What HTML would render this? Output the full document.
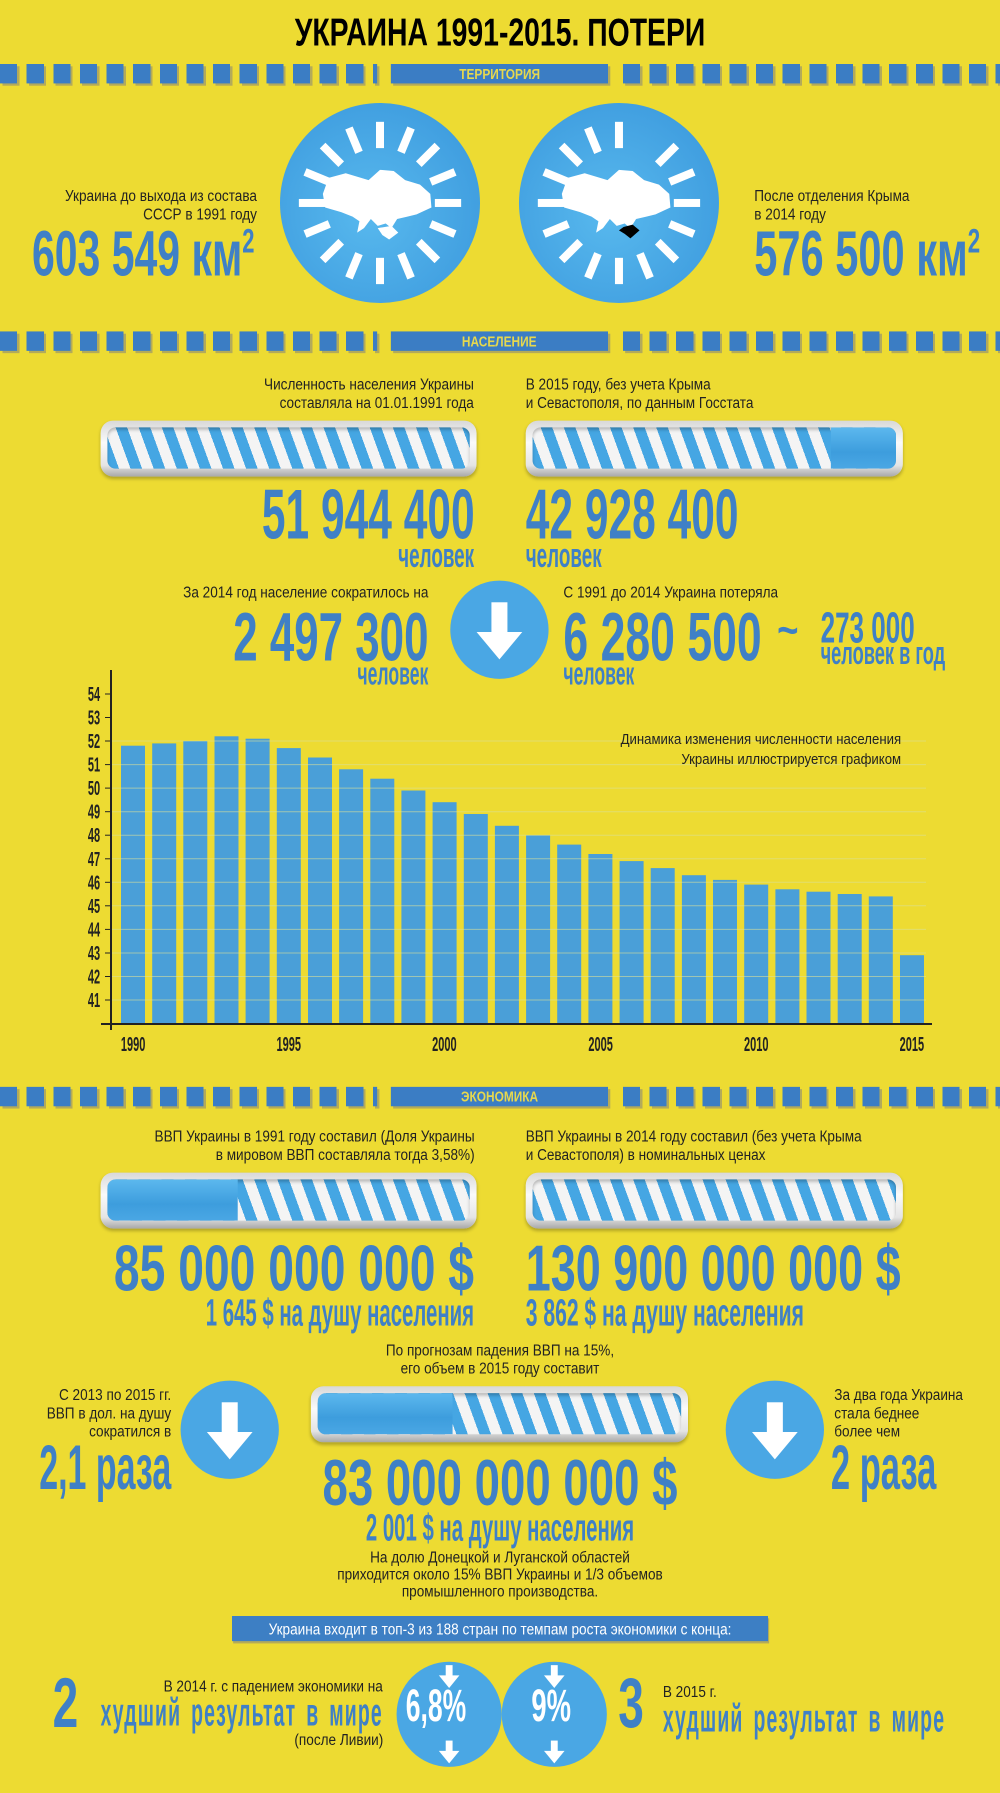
<!DOCTYPE html>
<html><head><meta charset="utf-8">
<style>
html,body{margin:0;padding:0;}
body{width:1000px;height:1793px;background:#eddb32;overflow:hidden;position:relative;font-family:"Liberation Sans","DejaVu Sans",sans-serif;}
#w{position:absolute;left:0;top:0;width:875px;height:1569px;transform:scale(1.142857);transform-origin:0 0;}
.t{position:absolute;white-space:nowrap;line-height:1;transform-origin:0 0;}
.r{text-align:right;transform-origin:100% 0;}
.c{left:0;width:875px;text-align:center;transform-origin:50% 0;}
.b{font-weight:bold;color:#3f80c6;}
.s{font-size:13.5px;color:#222;line-height:16px;transform:scaleX(.88);}
.dash{position:absolute;height:17px;background:repeating-linear-gradient(90deg,#3b7dc4 0 15px,transparent 15px 23.3px);}
.dsh{position:absolute;height:17px;background:repeating-linear-gradient(90deg,#b3aa5a 0 15px,transparent 15px 23.3px);}
.lab{position:absolute;left:342px;width:190px;height:17px;background:#3b7dc4;box-shadow:2px 2px 0 #b3aa5a;color:#e6d84e;font-weight:bold;font-size:13px;text-align:center;line-height:17px;}
.bar{position:absolute;height:49px;border-radius:11px;background:linear-gradient(#d8d8d8,#fafafa 40%,#e4e4e4 80%,#a8a8a8);box-shadow:0 2px 3px rgba(0,0,0,.25);}
.in{position:absolute;left:6px;right:6px;top:6px;bottom:7px;border-radius:7px;overflow:hidden;background:repeating-linear-gradient(70deg,#45a6e3 0 9.5px,#f4f4f4 9.5px 19px);box-shadow:inset 0 2px 3px rgba(0,0,0,.25);}
.fill{position:absolute;left:0;top:0;bottom:0;background:linear-gradient(#5cb8ee,#3d9ddd 60%,#4aa7e4);}
</style></head><body>
<div id="w">
<div class="t c" style="top:12px;font-size:34px;font-weight:bold;color:#000;transform:scaleX(.73)">УКРАИНА 1991-2015. ПОТЕРИ</div>

<div class="dsh" style="left:2px;top:58px;width:330px"></div><div class="dash" style="left:0;top:56px;width:330px"></div>
<div class="dsh" style="left:547px;top:58px;width:330px"></div><div class="dash" style="left:545px;top:56px;width:330px"></div>
<div class="lab" style="top:56px"><span style="display:inline-block;transform:scaleX(.8)">ТЕРРИТОРИЯ</span></div>

<svg style="position:absolute;left:0;top:0" width="875" height="300">
<defs><radialGradient id="cg" cx="45%" cy="55%" r="60%"><stop offset="0" stop-color="#58b9ee"/><stop offset="1" stop-color="#3f9ddf"/></radialGradient></defs>
<g transform="translate(332.5,177.6)">
<circle r="87.5" fill="url(#cg)"/>
<g fill="#fff">
<rect x="-3.5" y="-71" width="7" height="23" transform="rotate(0)"/><rect x="-3.5" y="-71" width="7" height="23" transform="rotate(22.5)"/><rect x="-3.5" y="-71" width="7" height="23" transform="rotate(45)"/><rect x="-3.5" y="-71" width="7" height="23" transform="rotate(67.5)"/><rect x="-3.5" y="-71" width="7" height="23" transform="rotate(90)"/><rect x="-3.5" y="-71" width="7" height="23" transform="rotate(112.5)"/><rect x="-3.5" y="-71" width="7" height="23" transform="rotate(135)"/><rect x="-3.5" y="-71" width="7" height="23" transform="rotate(157.5)"/><rect x="-3.5" y="-71" width="7" height="23" transform="rotate(180)"/><rect x="-3.5" y="-71" width="7" height="23" transform="rotate(202.5)"/><rect x="-3.5" y="-71" width="7" height="23" transform="rotate(225)"/><rect x="-3.5" y="-71" width="7" height="23" transform="rotate(247.5)"/><rect x="-3.5" y="-71" width="7" height="23" transform="rotate(270)"/><rect x="-3.5" y="-71" width="7" height="23" transform="rotate(292.5)"/><rect x="-3.5" y="-71" width="7" height="23" transform="rotate(315)"/><rect x="-3.5" y="-71" width="7" height="23" transform="rotate(337.5)"/>
<path d="M-45,-22 L-30,-26 L-10,-20 L0,-29 L12,-28 L22,-20 L35,-16 L44,-8 L45,4 L32,10 L24,12 L15,14 L10,22 L5,18 L-2,20 L-8,14 L-14,22 L-20,26 L-18,16 L-24,12 L-34,8 L-48,4 L-50,-8 Z"/>
<path d="M-2,22 L10,20 L16,26 L8,32 L2,28 Z"/>
</g></g>
<g transform="translate(541.6,177.6)">
<circle r="87.5" fill="url(#cg)"/>
<g fill="#fff">
<rect x="-3.5" y="-71" width="7" height="23" transform="rotate(0)"/><rect x="-3.5" y="-71" width="7" height="23" transform="rotate(-22.5)"/><rect x="-3.5" y="-71" width="7" height="23" transform="rotate(45)"/><rect x="-3.5" y="-71" width="7" height="23" transform="rotate(67.5)"/><rect x="-3.5" y="-71" width="7" height="23" transform="rotate(90)"/><rect x="-3.5" y="-71" width="7" height="23" transform="rotate(112.5)"/><rect x="-3.5" y="-71" width="7" height="23" transform="rotate(135)"/><rect x="-3.5" y="-71" width="7" height="23" transform="rotate(157.5)"/><rect x="-3.5" y="-71" width="7" height="23" transform="rotate(180)"/><rect x="-3.5" y="-71" width="7" height="23" transform="rotate(202.5)"/><rect x="-3.5" y="-71" width="7" height="23" transform="rotate(225)"/><rect x="-3.5" y="-71" width="7" height="23" transform="rotate(247.5)"/><rect x="-3.5" y="-71" width="7" height="23" transform="rotate(270)"/><rect x="-3.5" y="-71" width="7" height="23" transform="rotate(292.5)"/><rect x="-3.5" y="-71" width="7" height="23" transform="rotate(315)"/><rect x="-3.5" y="-71" width="7" height="23" transform="rotate(337.5)"/>
<path d="M-45,-22 L-30,-26 L-10,-20 L0,-29 L12,-28 L22,-20 L35,-16 L44,-8 L45,4 L32,10 L24,12 L15,14 L10,22 L5,18 L-2,20 L-8,14 L-14,22 L-20,26 L-18,16 L-24,12 L-34,8 L-48,4 L-50,-8 Z"/>
</g>
<path d="M4,21 L12,19 L18,24 L10,31 L5,27 L0,24 Z" fill="#000"/>
</g>
</svg>

<div class="t r s" style="right:650px;top:164px">Украина до выхода из состава<br>СССР в 1991 году</div>
<div class="t b" style="left:28px;top:194px;font-size:56px;transform:scaleX(.64)">603 549 км<sup style="font-size:30px;vertical-align:20px">2</sup></div>
<div class="t s" style="left:660px;top:164px">После отделения Крыма<br>в 2014 году</div>
<div class="t b" style="left:660px;top:194px;font-size:56px;transform:scaleX(.65)">576 500 км<sup style="font-size:30px;vertical-align:20px">2</sup></div>

<div class="dsh" style="left:2px;top:292px;width:330px"></div><div class="dash" style="left:0;top:290px;width:330px"></div>
<div class="dsh" style="left:547px;top:292px;width:330px"></div><div class="dash" style="left:545px;top:290px;width:330px"></div>
<div class="lab" style="top:290px"><span style="display:inline-block;transform:scaleX(.8)">НАСЕЛЕНИЕ</span></div>

<div class="t r s" style="right:460px;top:329px">Численность населения Украины<br>составляла на 01.01.1991 года</div>
<div class="t s" style="left:460px;top:329px">В 2015 году, без учета Крыма<br>и Севастополя, по данным Госстата</div>
<div class="bar" style="left:88px;top:368px;width:329px"><div class="in"></div></div>
<div class="bar" style="left:460px;top:368px;width:330px"><div class="in"><div class="fill" style="left:auto;right:0;width:18%"></div></div></div>
<div class="t r b" style="right:460px;top:420px;font-size:62px;transform:scaleX(.6)">51 944 400</div>
<div class="t r b" style="right:460px;top:472px;font-size:30px;transform:scaleX(.55)">человек</div>
<div class="t b" style="left:460px;top:420px;font-size:62px;transform:scaleX(.6)">42 928 400</div>
<div class="t b" style="left:460px;top:472px;font-size:30px;transform:scaleX(.55)">человек</div>

<div class="t r s" style="right:500px;top:511px">За 2014 год население сократилось на</div>
<div class="t r b" style="right:500px;top:528px;font-size:60px;transform:scaleX(.64)">2 497 300</div>
<div class="t r b" style="right:500px;top:576px;font-size:28px;transform:scaleX(.55)">человек</div>
<svg style="position:absolute;left:393px;top:507px" width="88" height="88"><circle cx="44" cy="44" r="43" fill="#4aa7e4"/><rect x="37" y="20" width="14" height="28" fill="#fff"/><path d="M24,46 L64,46 L44,70 Z" fill="#fff"/></svg>
<div class="t s" style="left:493px;top:511px">С 1991 до 2014 Украина потеряла</div>
<div class="t b" style="left:493px;top:528px;font-size:60px;transform:scaleX(.65)">6 280 500</div>
<div class="t b" style="left:493px;top:576px;font-size:28px;transform:scaleX(.55)">человек</div>
<div class="t b" style="left:680px;top:532px;font-size:40px;transform:scaleX(.8)">~</div>
<div class="t b" style="left:718px;top:531px;font-size:38px;transform:scaleX(.6)">273 000</div>
<div class="t b" style="left:718px;top:558px;font-size:28px;transform:scaleX(.57)">человек в год</div>

<div class="dsh" style="left:2px;top:953px;width:330px"></div><div class="dash" style="left:0;top:951px;width:330px"></div>
<div class="dsh" style="left:547px;top:953px;width:330px"></div><div class="dash" style="left:545px;top:951px;width:330px"></div>
<div class="lab" style="top:951px"><span style="display:inline-block;transform:scaleX(.8)">ЭКОНОМИКА</span></div>

<div class="t r s" style="right:460px;top:987px">ВВП Украины в 1991 году составил (Доля Украины<br>в мировом ВВП составляла тогда 3,58%)</div>
<div class="t s" style="left:460px;top:987px">ВВП Украины в 2014 году составил (без учета Крыма<br>и Севастополя) в номинальных ценах</div>
<div class="bar" style="left:88px;top:1026px;width:329px"><div class="in"><div class="fill" style="width:36%"></div></div></div>
<div class="bar" style="left:460px;top:1026px;width:330px"><div class="in"></div></div>
<div class="t r b" style="right:460px;top:1082px;font-size:57px;transform:scaleX(.71)">85 000 000 000 $</div>
<div class="t r b" style="right:460px;top:1132px;font-size:33px;transform:scaleX(.54)">1 645 $ на душу населения</div>
<div class="t b" style="left:460px;top:1082px;font-size:57px;transform:scaleX(.69)">130 900 000 000 $</div>
<div class="t b" style="left:460px;top:1132px;font-size:33px;transform:scaleX(.56)">3 862 $ на душу населения</div>

<div class="t c s" style="top:1174px">По прогнозам падения ВВП на 15%,<br>его объем в 2015 году составит</div>
<div class="t r s" style="right:725px;top:1213px">С 2013 по 2015 гг.<br>ВВП в дол. на душу<br>сократился в</div>
<div class="t r b" style="right:725px;top:1257px;font-size:55px;transform:scaleX(.54)">2,1 раза</div>
<svg style="position:absolute;left:157px;top:1207px" width="88" height="88"><circle cx="44" cy="44" r="43" fill="#4aa7e4"/><rect x="37" y="20" width="14" height="28" fill="#fff"/><path d="M24,46 L64,46 L44,70 Z" fill="#fff"/></svg>
<div class="bar" style="left:272px;top:1213px;width:330px"><div class="in"><div class="fill" style="width:37%"></div></div></div>
<svg style="position:absolute;left:634px;top:1207px" width="88" height="88"><circle cx="44" cy="44" r="43" fill="#4aa7e4"/><rect x="37" y="20" width="14" height="28" fill="#fff"/><path d="M24,46 L64,46 L44,70 Z" fill="#fff"/></svg>
<div class="t s" style="left:730px;top:1213px">За два года Украина<br>стала беднее<br>более чем</div>
<div class="t b" style="left:727px;top:1257px;font-size:55px;transform:scaleX(.55)">2 раза</div>
<div class="t c b" style="top:1270px;font-size:57px;transform:scaleX(.70)">83 000 000 000 $</div>
<div class="t c b" style="top:1320px;font-size:33px;transform:scaleX(.54)">2 001 $ на душу населения</div>
<div class="t c s" style="top:1355px;line-height:15px">На долю Донецкой и Луганской областей<br>приходится около 15% ВВП Украины и 1/3 объемов<br>промышленного производства.</div>

<div style="position:absolute;left:203px;top:1414px;width:469px;height:22px;background:#3d7fc4;box-shadow:1px 2px 0 #b3aa5a"></div>
<div class="t c s" style="top:1418px;color:#fff">Украина входит в топ-3 из 188 стран по темпам роста экономики с конца:</div>

<div class="t b" style="left:46px;top:1460px;font-size:62px;transform:scaleX(.65)">2</div>
<div class="t r s" style="right:540px;top:1468px">В 2014 г. с падением экономики на</div>
<div class="t r b" style="right:540px;top:1482px;font-size:34px;word-spacing:6px;letter-spacing:2px;transform:scaleX(.5)">худший результат в мире</div>
<div class="t r s" style="right:540px;top:1515px">(после Ливии)</div>
<svg style="position:absolute;left:345px;top:1453px" width="190" height="95">
<g fill="#4aa7e4"><ellipse cx="48" cy="47" rx="46" ry="46"/><ellipse cx="140" cy="47" rx="46" ry="46"/></g>
<g fill="#fff"><rect x="45" y="4" width="6" height="10"/><path d="M39,13 L57,13 L48,24Z"/><rect x="45" y="70" width="6" height="10"/><path d="M39,79 L57,79 L48,90Z"/>
<rect x="137" y="4" width="6" height="10"/><path d="M131,13 L149,13 L140,24Z"/><rect x="137" y="70" width="6" height="10"/><path d="M131,79 L149,79 L140,90Z"/></g>
</svg>
<div class="t b" style="left:355px;top:1473px;font-size:40px;color:#fff;transform:scaleX(.58)">6,8%</div>
<div class="t b" style="left:465px;top:1473px;font-size:40px;color:#fff;transform:scaleX(.6)">9%</div>
<div class="t b" style="left:541px;top:1460px;font-size:62px;transform:scaleX(.65)">3</div>
<div class="t s" style="left:580px;top:1473px">В 2015 г.</div>
<div class="t b" style="left:580px;top:1487px;font-size:34px;word-spacing:6px;letter-spacing:2px;transform:scaleX(.5)">худший результат в мире</div>
</div>

<svg style="position:absolute;left:0;top:660px" width="1000" height="400" font-family="Liberation Sans, sans-serif">
<g transform="translate(0,-660)">
<g fill="#4a9fd8">
<rect x="121" y="745.7" width="24" height="278.3"/>
<rect x="152.2" y="743.4" width="24" height="280.6"/>
<rect x="183.3" y="741" width="24" height="283"/>
<rect x="214.5" y="736.3" width="24" height="287.7"/>
<rect x="245.6" y="738.7" width="24" height="285.3"/>
<rect x="276.8" y="748.1" width="24" height="275.9"/>
<rect x="308" y="757.5" width="24" height="266.5"/>
<rect x="339.1" y="769.3" width="24" height="254.7"/>
<rect x="370.3" y="778.7" width="24" height="245.3"/>
<rect x="401.4" y="790.5" width="24" height="233.5"/>
<rect x="432.6" y="802.2" width="24" height="221.8"/>
<rect x="463.8" y="814" width="24" height="210"/>
<rect x="494.9" y="825.8" width="24" height="198.2"/>
<rect x="526.1" y="835.2" width="24" height="188.8"/>
<rect x="557.2" y="844.6" width="24" height="179.4"/>
<rect x="588.4" y="854" width="24" height="170"/>
<rect x="619.6" y="861.1" width="24" height="162.9"/>
<rect x="650.7" y="868.1" width="24" height="155.9"/>
<rect x="681.9" y="875.2" width="24" height="148.8"/>
<rect x="713" y="879.9" width="24" height="144.1"/>
<rect x="744.2" y="884.6" width="24" height="139.4"/>
<rect x="775.4" y="889.3" width="24" height="134.7"/>
<rect x="806.5" y="891.7" width="24" height="132.3"/>
<rect x="837.7" y="894" width="24" height="130"/>
<rect x="868.8" y="896.4" width="24" height="127.6"/>
<rect x="900" y="955.2" width="24" height="68.8"/>
</g>
<g stroke="#d8df9a" stroke-opacity=".6" stroke-width="1">
<line x1="112" x2="926" y1="1000" y2="1000"/><line x1="112" x2="926" y1="976.5" y2="976.5"/><line x1="112" x2="926" y1="953" y2="953"/><line x1="112" x2="926" y1="929.4" y2="929.4"/><line x1="112" x2="926" y1="905.8" y2="905.8"/><line x1="112" x2="926" y1="882.3" y2="882.3"/><line x1="112" x2="926" y1="858.8" y2="858.8"/><line x1="112" x2="926" y1="835.2" y2="835.2"/><line x1="112" x2="926" y1="811.7" y2="811.7"/><line x1="112" x2="926" y1="788.1" y2="788.1"/><line x1="112" x2="926" y1="764.6" y2="764.6"/><line x1="112" x2="926" y1="741" y2="741"/>
</g>
<g stroke="#222" stroke-width="2" fill="none">
<line x1="111" y1="670" x2="111" y2="1030"/><line x1="101" y1="1024" x2="932" y2="1024"/>
</g>
<g stroke="#222" stroke-width="1">
<line x1="105" x2="111" y1="1000" y2="1000"/><line x1="105" x2="111" y1="976.5" y2="976.5"/><line x1="105" x2="111" y1="953" y2="953"/><line x1="105" x2="111" y1="929.4" y2="929.4"/><line x1="105" x2="111" y1="905.8" y2="905.8"/><line x1="105" x2="111" y1="882.3" y2="882.3"/><line x1="105" x2="111" y1="858.8" y2="858.8"/><line x1="105" x2="111" y1="835.2" y2="835.2"/><line x1="105" x2="111" y1="811.7" y2="811.7"/><line x1="105" x2="111" y1="788.1" y2="788.1"/><line x1="105" x2="111" y1="764.6" y2="764.6"/><line x1="105" x2="111" y1="741" y2="741"/><line x1="105" x2="111" y1="717.5" y2="717.5"/><line x1="105" x2="111" y1="694" y2="694"/>
</g>
<g font-size="20" font-weight="bold" fill="#222" text-anchor="end" transform="scale(.55,1)">
<text x="182" y="1007">41</text><text x="182" y="983.5">42</text><text x="182" y="960">43</text><text x="182" y="936.4">44</text><text x="182" y="912.8">45</text><text x="182" y="889.3">46</text><text x="182" y="865.8">47</text><text x="182" y="842.2">48</text><text x="182" y="818.7">49</text><text x="182" y="795.1">50</text><text x="182" y="771.6">51</text><text x="182" y="748">52</text><text x="182" y="724.5">53</text><text x="182" y="701">54</text>
</g>
<g font-size="20" font-weight="bold" fill="#222" text-anchor="middle" transform="scale(.55,1)">
<text x="242" y="1051">1990</text><text x="525" y="1051">1995</text><text x="808" y="1051">2000</text><text x="1092" y="1051">2005</text><text x="1375" y="1051">2010</text><text x="1658" y="1051">2015</text>
</g>
<g font-size="15" fill="#222" text-anchor="end" transform="scale(.88,1)">
<text x="1024" y="744">Динамика изменения численности населения</text>
<text x="1024" y="764">Украины иллюстрируется графиком</text>
</g>
</g>
</svg>
</body></html>
